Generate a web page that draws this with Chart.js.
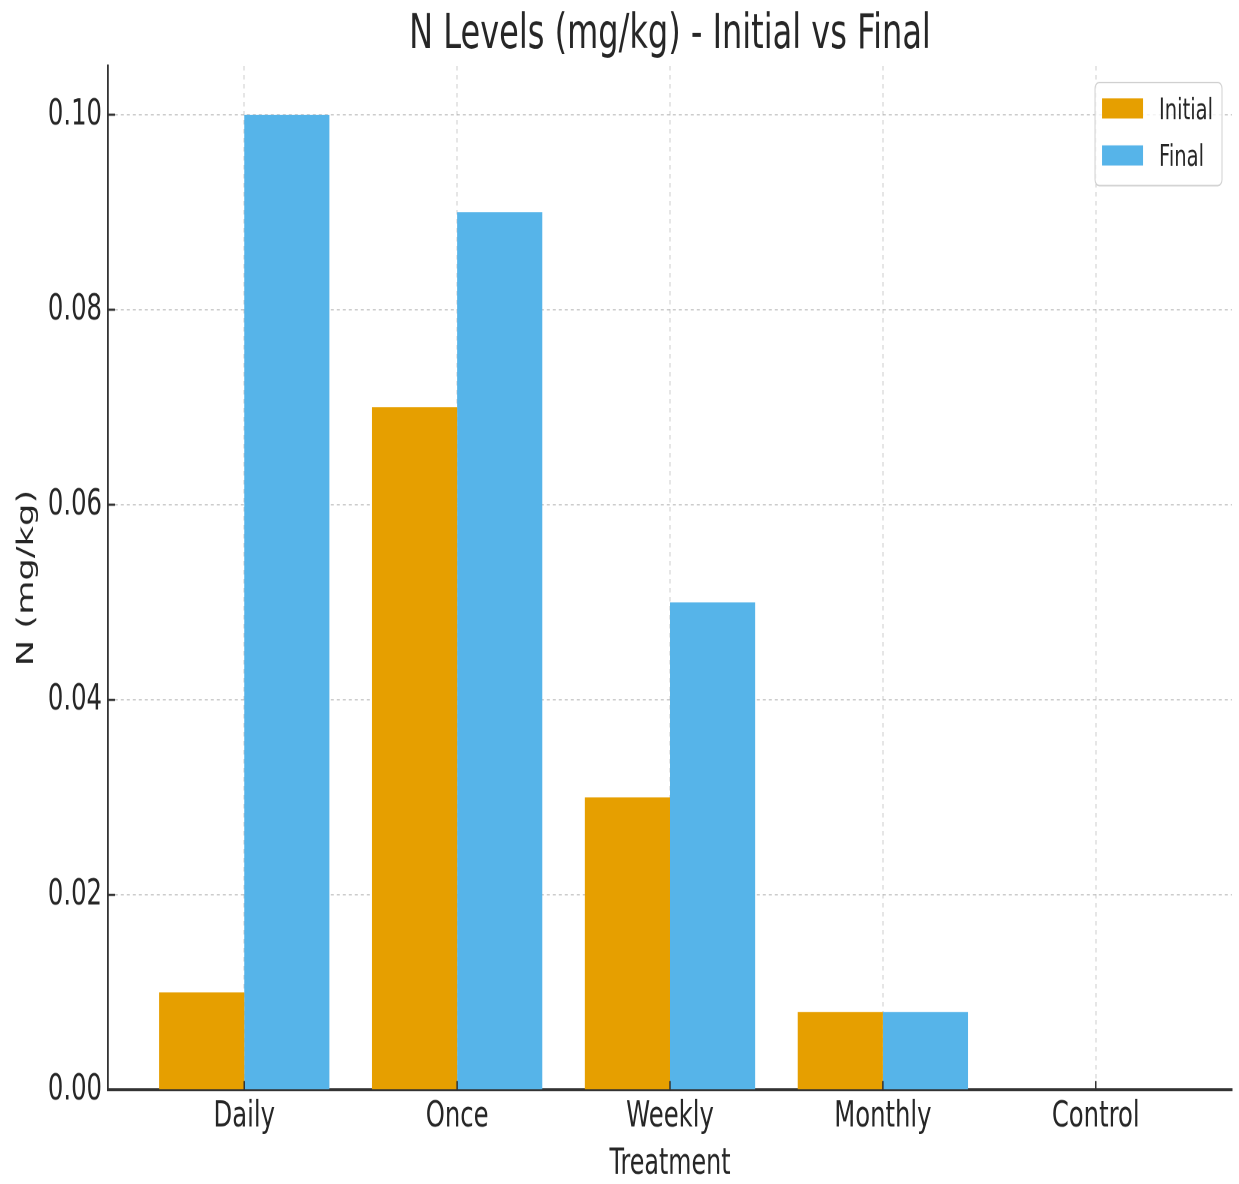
<!DOCTYPE html>
<html>
<head>
<meta charset="utf-8">
<script src="https://cdn.jsdelivr.net/npm/chart.js@4.4.1/dist/chart.umd.min.js"></script>
<style>
  html, body { margin: 0; padding: 0; background: #fff; }
  #page { width: 1239px; height: 1184px; overflow: hidden; position: relative; }
  /* the reference is a vertically stretched picture, so the chart is drawn flat and stretched */
  #wrap {
    width: 1239px;
    height: 789.33px;
    transform: scaleY(1.5);
    transform-origin: 0 0;
  }
</style>
</head>
<body>
<div id="page"><div id="wrap"><canvas id="chart"></canvas></div></div>
<script>
const categories = ["Daily", "Once", "Weekly", "Monthly", "Control"];
const initialValues = [0.01, 0.07, 0.03, 0.008, 0];
const finalValues = [0.10, 0.09, 0.05, 0.008, 0];
const yTicks = [0.00, 0.02, 0.04, 0.06, 0.08, 0.10];
const seriesNames = ["Initial", "Final"];

const textColor = "#262626";
const font = "DejaVu Sans";

// draw the small inward tick marks like matplotlib's direction='in'
const innerTicks = {
  id: "innerTicks",
  afterDraw(chart) {
    const ctx = chart.ctx;
    const area = chart.chartArea;
    const x = chart.scales.x;
    const y = chart.scales.y;
    ctx.save();
    ctx.strokeStyle = "#333";
    ctx.lineWidth = 1.5;
    ctx.beginPath();
    y.ticks.forEach(t => {
      const py = y.getPixelForValue(t.value);
      ctx.moveTo(area.left, py);
      ctx.lineTo(area.left + 7, py);
    });
    x.ticks.forEach(t => {
      const px = x.getPixelForValue(t.value);
      ctx.moveTo(px, area.bottom);
      ctx.lineTo(px, area.bottom - 6);
    });
    ctx.stroke();
    ctx.restore();
  }
};

// legend sitting inside the plot, top right
const innerLegend = {
  id: "innerLegend",
  afterDraw(chart) {
    const ctx = chart.ctx;
    const area = chart.chartArea;
    const sets = chart.data.datasets;
    ctx.save();
    ctx.font = "19.5px '" + font + "'";
    const textW = Math.max(...sets.map(d => ctx.measureText(d.label).width));
    const w = 64 + textW + 9;
    const h = 68.7;
    const right = area.right - 10;
    const left = right - w;
    const top = area.top + 11;
    ctx.fillStyle = "rgba(255,255,255,0.8)";
    ctx.strokeStyle = "#d0d0d0";
    ctx.lineWidth = 1;
    ctx.beginPath();
    ctx.roundRect(left, top, w, h, 4);
    ctx.fill();
    ctx.stroke();
    sets.forEach((d, i) => {
      const cy = top + 17.3 + i * 31.3;
      ctx.fillStyle = d.backgroundColor;
      ctx.fillRect(left + 7, cy - 6.7, 41, 13.4);
      ctx.fillStyle = textColor;
      ctx.textBaseline = "middle";
      ctx.textAlign = "left";
      ctx.fillText(d.label, left + 64, cy + 2);
    });
    ctx.restore();
  }
};

const chartData = {
  datasets: [
    {
      label: seriesNames[0],
      data: initialValues.map((v, i) => ({ x: i, y: v })),
      backgroundColor: "#E69F00",
    },
    {
      label: seriesNames[1],
      data: finalValues.map((v, i) => ({ x: i, y: v })),
      backgroundColor: "#56B4E9",
    },
  ],
};

const config = {
  type: "bar",
  data: chartData,
  options: {
    responsive: true,
    maintainAspectRatio: false,
    animation: false,
    devicePixelRatio: 2,
    categoryPercentage: 0.8,
    barPercentage: 1.0,
    layout: { padding: { left: 0, right: 7, top: 0, bottom: 0 } },
    plugins: {
      legend: { display: false },
      tooltip: { enabled: false },
      title: {
        display: true,
        text: "N Levels (mg/kg) - Initial vs Final",
        color: textColor,
        fullSize: false,
        font: { family: font, size: 32, weight: "normal", lineHeight: 1.1 },
        padding: { top: 6, bottom: 2.8 },
      },
    },
    scales: {
      x: {
        type: "linear",
        offset: false,
        min: -0.64,
        max: categories.length - 1 + 0.64,
        afterBuildTicks: scale => {
          scale.ticks = categories.map((c, i) => ({ value: i }));
        },
        afterFit: scale => { scale.height = 62.67; },
        ticks: {
          color: textColor,
          font: { family: font, size: 24.3 },
          padding: 3.5,
          maxRotation: 0,
          autoSkip: false,
          callback: value => categories[value],
        },
        grid: { offset: false, color: "rgba(170,170,170,0.6)", lineWidth: 1, drawTicks: false },
        border: { display: true, color: "#333", width: 2, dash: [3, 3] },
        title: {
          display: true,
          text: "Treatment",
          color: textColor,
          font: { family: font, size: 23.8, lineHeight: 1 },
          padding: { top: 0, bottom: 1 },
        },
      },
      y: {
        min: 0,
        max: 0.105,
        afterBuildTicks: scale => {
          scale.ticks = yTicks.map(v => ({ value: v }));
        },
        afterFit: scale => { scale.width = 108; },
        ticks: {
          color: textColor,
          font: { family: font, size: 24.3 },
          padding: 6,
          callback: value => value.toFixed(2),
        },
        grid: { color: "rgba(170,170,170,0.6)", lineWidth: 1, drawTicks: false },
        border: { display: true, color: "#333", width: 1.8, dash: [3, 3] },
        title: {
          display: true,
          text: "N (mg/kg)",
          color: textColor,
          font: { family: font, size: 23.5, lineHeight: 1 },
          padding: { top: 15, bottom: 0 },
        },
      },
    },
  },
  plugins: [innerTicks, innerLegend],
};

const ctx = document.getElementById("chart").getContext("2d");
const myChart = new Chart(ctx, config);
</script>
</body>
</html>
